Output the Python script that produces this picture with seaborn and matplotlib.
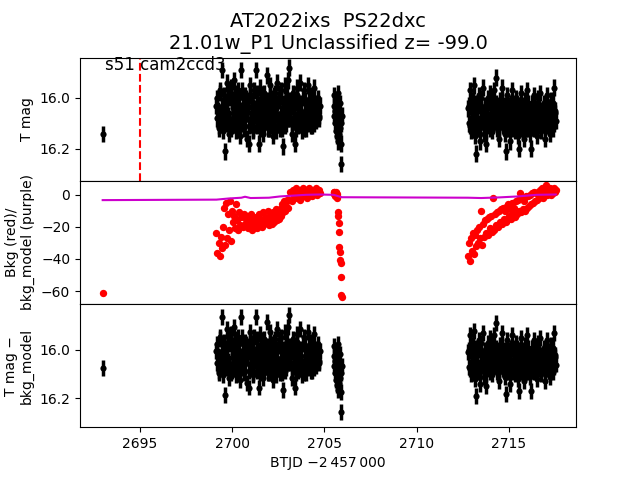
import numpy as np
import pandas as pd
import matplotlib
matplotlib.use("Agg")
import matplotlib.pyplot as plt
import seaborn as sns

# ---- data ----
# single early point
t_single = [2692.98]
mag_single = [16.142]
bkg_single = [-61.0]
corr_single = [0.066]          # T mag - (T mag - bkg_model) offset

# segment 1 : 2699.15 - 2704.75
seg1_range = (2699.15, 2704.75)
seg1_mag = [16.03, 16.08, 16.12, 15.98, 16.06, 15.89, 16.10, 16.01, 16.21, 16.05,
            15.94, 16.07, 16.14, 16.00, 15.96, 16.11, 16.04, 15.93, 16.09, 16.13,
            16.02, 15.97, 16.08, 16.15, 15.89, 16.05, 16.12, 15.99, 16.06, 16.16,
            16.01, 16.18, 15.95, 16.09, 16.04, 16.13, 15.97, 16.07, 15.89, 16.11,
            16.03, 16.18, 15.96, 16.10, 16.05, 16.14, 15.98, 16.08, 15.91, 16.12,
            16.02, 15.95, 16.11, 16.06, 16.15, 15.99, 16.04, 16.13, 15.94, 16.09,
            16.01, 16.12, 15.97, 16.07, 16.19, 16.03, 15.95, 16.10, 16.05, 15.93,
            15.88, 16.08, 16.14, 15.98, 16.06, 16.18, 16.02, 15.96, 16.11, 16.04,
            15.94, 16.09, 16.13, 16.00, 15.97, 16.07, 16.12, 16.03, 15.95, 16.10,
            16.05, 15.99, 16.11, 16.02, 15.96, 16.08, 16.04, 16.00, 16.07, 16.03]
# in-between cadences (magnitudes only)
seg1_mag_b = [16.07, 16.00, 16.05, 16.11, 15.97, 16.09, 16.03, 16.13, 15.99, 16.06,
              16.10, 16.02, 15.97, 16.08, 16.12, 16.01, 16.06, 16.10, 15.98, 16.04,
              16.09, 16.12, 16.00, 16.05, 16.10, 15.97, 16.03, 16.11, 16.08, 16.00,
              16.06, 16.03, 16.11, 15.99, 16.08, 16.01, 16.12, 16.04, 16.07, 15.98,
              16.09, 16.04, 16.12, 16.00, 16.07, 15.99, 16.11, 16.03, 16.06, 16.01,
              16.08, 16.12, 15.99, 16.04, 16.00, 16.10, 16.07, 15.98, 16.06, 16.02,
              16.10, 15.98, 16.06, 16.12, 16.02, 16.09, 16.11, 16.00, 15.99, 16.08,
              16.05, 16.01, 16.03, 16.10, 16.00, 16.04, 16.09, 16.12, 15.99, 16.07,
              16.10, 16.02, 16.05, 16.09, 16.12, 16.01, 16.05, 16.09, 16.03, 16.01,
              16.08, 16.11, 16.03, 16.07, 16.10, 16.02, 16.09, 16.06, 16.02, 16.08]
seg1_bkg = [-24, -36, -30, -38, -26, -33,
            -20, -8, -31, -5, -27, -12, -22, -4, -29, -10, -17,
            -13, -21, -6, -16, -22, -11, -19, -14, -20, -12, -18, -15,
            -13, -21, -16, -19, -12, -22, -15, -18, -20, -14, -21, -17, -12, -19, -16, -20,
            -11, -18, -14, -17, -10, -19, -13, -16, -18, -11, -17, -14, -9, -16, -12, -15,
            -9, -13, -6, -11, -4, -10, -7, -3, -8,
            -3, 2, -4, 3, -1, 0, 4, -2, 1, 3, -3, 2, 0, 4, -1, 3, 1, -2, 2, 4,
            0, 3, -1, 2, 1, 4, 0, 2, 3, 1]
seg1_corr = 0.025

# segment 2 : 2705.50 - 2705.95
seg2_range = (2705.50, 2705.95)
seg2_mag = [16.03, 16.07, 15.99, 16.10, 16.05, 16.13, 16.01, 16.08, 16.15, 16.04, 16.11,
            15.98, 16.17, 16.09, 16.06, 16.14, 16.02, 16.12, 16.18, 16.26, 16.10, 16.07]
seg2_bkg = [1.5, 0.5, 2.0, 1.0, -0.5, 1.5, 0.0, 1.0, -1.0, 0.5, -2.0,
            -11, -13.5, -17.5, -23, -32.5, -35.5, -40.5, -42.5, -51, -62.5, -64]
seg2_corr = 0.005

# segment 3 : 2712.80 - 2717.55
seg3_range = (2712.80, 2717.55)
seg3_mag = [16.04, 16.10, 15.97, 16.13, 16.06, 16.01, 15.95, 16.15, 16.22, 16.08,
            16.12, 15.99, 16.17, 16.05, 16.09, 15.96, 16.14, 16.03, 16.18, 16.07,
            16.00, 16.11, 15.98, 16.06, 16.13, 16.02, 15.97, 16.09, 15.92, 16.12,
            16.05, 16.16, 16.01, 16.08, 15.96, 16.11, 16.04, 16.14, 16.21, 16.07,
            15.99, 16.12, 16.06, 16.17, 16.02, 15.97, 16.10, 16.05, 16.13, 16.00,
            16.08, 16.15, 16.20, 16.03, 15.98, 16.11, 16.06, 16.16, 16.01, 16.09,
            15.97, 16.12, 16.05, 16.14, 16.20, 16.02, 16.08, 15.99, 16.11, 16.04,
            16.15, 16.00, 16.09, 15.98, 16.13, 16.06, 16.10, 16.02, 16.16, 16.07,
            15.99, 16.11, 16.04, 16.14, 16.01, 16.08, 16.12, 15.96, 16.05, 16.09]
seg3_mag_b = [16.08, 16.03, 16.11, 16.01, 16.09, 16.12, 16.04, 16.06, 16.10, 16.02,
              16.05, 16.10, 16.03, 16.12, 16.00, 16.08, 16.06, 16.11, 16.04, 16.13,
              16.07, 16.02, 16.10, 16.12, 16.01, 16.08, 16.11, 16.04, 16.06, 16.02,
              16.10, 16.03, 16.12, 16.05, 16.09, 16.01, 16.10, 16.07, 16.03, 16.12,
              16.08, 16.04, 16.11, 16.03, 16.09, 16.12, 16.02, 16.08, 16.05, 16.11,
              16.02, 16.07, 16.10, 16.12, 16.06, 16.03, 16.13, 16.04, 16.09, 16.12,
              16.06, 16.02, 16.10, 16.07, 16.11, 16.08, 16.03, 16.12, 16.06, 16.10,
              16.04, 16.11, 16.06, 16.03, 16.09, 16.12, 16.05, 16.08, 16.04, 16.11,
              16.07, 16.03, 16.10, 16.06, 16.12, 16.04, 16.08, 16.02, 16.10, 16.06]
seg3_bkg = [-38, -30, -41, -27, -35, -24, -37, -25, -32, -22,
            -30, -20, -27, -10, -31, -18, -26, -16, -24, -15,
            -25, -14, -21, -13, -23, -2, -22, -12, -19, -11,
            -20, -10, -17, -9, -18, -8, -15, -10, -17, -7,
            -16, -6, -13, -9, -15, -5, -12, -8, -14, -4,
            -12, -3, -10, 1, -11, -2, -9, -4, -10, -1,
            -8, -1, -7, 0, -6, 1, -5, 2, -4, 1,
            -3, 2, -2, 3, -1, 4, -2, 3, 0, 6,
            0, 3, 1, 4, 0, 3, 1, 4, 2, 3]
seg3_corr = 0.03

mag_err = 0.033

# background model (purple line) vertices
model_t = [2692.98, 2699.15, 2699.8, 2700.5, 2700.7, 2701.0, 2702.0, 2702.6, 2703.3,
           2704.0, 2704.75, 2705.5, 2705.95, 2712.8, 2713.5, 2714.5, 2715.5, 2716.5, 2717.55]
model_v = [-3.3, -3.0, -2.3, -1.8, -1.2, -2.0, -1.8, -1.0, -0.5,
           0.0, 0.2, 0.0, -1.5, -1.8, -2.0, -1.6, -1.0, 0.0, 0.2]

sector_text = "s51 cam2ccd3"
sector_start = 2695.0

# ---- assemble ----
def seg_times(rng, vals, shift=0.0):
    # regular cadence across the segment
    step = (rng[1] - rng[0]) / (len(vals) - 1)
    return np.linspace(rng[0], rng[1], len(vals)) + shift * step

t = np.concatenate([t_single, seg_times(seg1_range, seg1_mag),
                    seg_times(seg2_range, seg2_mag), seg_times(seg3_range, seg3_mag)])
mag = np.concatenate([mag_single, seg1_mag, seg2_mag, seg3_mag])
bkg = np.concatenate([bkg_single, seg1_bkg, seg2_bkg, seg3_bkg])
corr = np.concatenate([corr_single, np.full(len(seg1_mag), seg1_corr),
                       np.full(len(seg2_mag), seg2_corr), np.full(len(seg3_mag), seg3_corr)])
df = pd.DataFrame({"t": t, "mag": mag, "bkg": bkg, "mag_sub": mag - corr})

# extra magnitude-only cadences
t_b = np.concatenate([seg_times(seg1_range, seg1_mag_b, -0.5)[1:],
                      seg_times(seg3_range, seg3_mag_b, -0.5)[1:]])
mag_b = np.concatenate([seg1_mag_b[1:], seg3_mag_b[1:]])
corr_b = np.concatenate([np.full(len(seg1_mag_b) - 1, seg1_corr),
                         np.full(len(seg3_mag_b) - 1, seg3_corr)])
dfm = pd.concat([df[["t", "mag", "mag_sub"]],
                 pd.DataFrame({"t": t_b, "mag": mag_b, "mag_sub": mag_b - corr_b})])

model = pd.DataFrame({"t": model_t, "v": model_v})

fig, axes = plt.subplots(3, 1, sharex=True, figsize=(6.4, 4.8), dpi=100)
plt.subplots_adjust(hspace=0)

# top: T mag
ax = axes[0]
ax.errorbar(dfm["t"], dfm["mag"], yerr=mag_err, fmt="none", ecolor="black", elinewidth=2.5)
sns.scatterplot(data=dfm, x="t", y="mag", color="black", s=20, linewidth=0, ax=ax)
ax.axvline(sector_start, color="red", linestyle="--", linewidth=1.5)
ax.text(0.05, 0.9, sector_text, transform=ax.transAxes, fontsize=12, va="baseline")
ax.set_ylim(16.326, 15.841)
ax.set_yticks([16.0, 16.2])
ax.set_ylabel("T mag")
ax.set_title("AT2022ixs  PS22dxc\n21.01w_P1 Unclassified z= -99.0", fontsize=14)

# middle: background
ax = axes[1]
sns.scatterplot(data=df, x="t", y="bkg", color="red", s=28, linewidth=0, ax=ax)
sns.lineplot(data=model, x="t", y="v", color="#cc00cc", linewidth=1.5, ax=ax)
ax.set_ylim(-68.1, 8.75)
ax.set_yticks([0, -20, -40, -60])
ax.set_ylabel("Bkg (red)/\nbkg_model (purple)")

# bottom: T mag - bkg_model
ax = axes[2]
ax.errorbar(dfm["t"], dfm["mag_sub"], yerr=mag_err, fmt="none", ecolor="black", elinewidth=2.5)
sns.scatterplot(data=dfm, x="t", y="mag_sub", color="black", s=20, linewidth=0, ax=ax)
ax.set_ylim(16.319, 15.81)
ax.set_yticks([16.0, 16.2])
ax.set_ylabel("T mag \u2212\nbkg_model")

ax.set_xlim(2691.75, 2718.65)
ax.set_xticks([2695, 2700, 2705, 2710, 2715])
ax.set_xlabel("BTJD \u22122\u2009457\u2009000")

plt.savefig("out.png", dpi=100)
plt.close()
